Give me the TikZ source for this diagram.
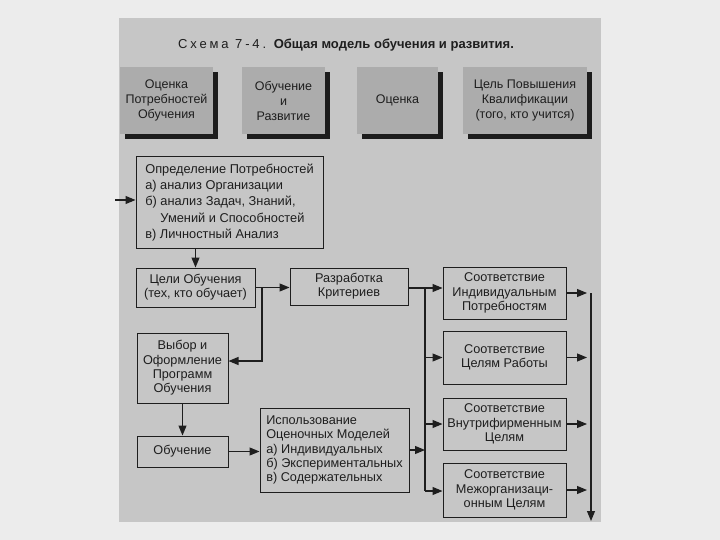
\documentclass[tikz,border=0pt]{standalone}
\usepackage{fontspec}
\setmainfont{Liberation Sans}
\newfontfamily\spacedfont[LetterSpace=22]{Liberation Sans}
\usetikzlibrary{arrows.meta,shadows}
\definecolor{outerbg}{HTML}{ECECEC}
\definecolor{scanbg}{HTML}{C6C6C6}
\definecolor{topfill}{HTML}{ACACAC}
\definecolor{shadowcol}{HTML}{1C1C1C}
\definecolor{ink}{HTML}{1E1E1E}
\begin{document}
\begin{tikzpicture}[x=1pt,y=-1pt,
  font=\fontsize{12.7}{14.3}\selectfont,
  every node/.style={text=ink},
  topbox/.style={fill=topfill, inner sep=1pt, align=center,
     font=\fontsize{12.5}{15}\selectfont,
     drop shadow={opacity=1, fill=shadowcol, shadow xshift=5pt, shadow yshift=-5pt}},
  midbox/.style={draw=ink, line width=1pt, inner sep=2pt, align=center},
  leftbox/.style={draw=ink, line width=1pt, inner sep=2pt, align=left},
  conn/.style={draw=ink, line width=1.1pt},
  arr/.style={conn, -{Triangle[length=10pt,width=8pt]}}
]
\useasboundingbox (0,0) rectangle (720,540);
\fill[outerbg] (0,0) rectangle (720,540);
\fill[scanbg] (119,18) rectangle (601,522);

% title
\node[font=\fontsize{13}{15}\selectfont] (title) at (346,45)
  {{\spacedfont Схема 7-4.} \textbf{Общая модель обучения и развития.}};

% top row
\node[topbox, minimum width=93, minimum height=67] (t1) at (166.5,100.5)
  {Оценка\\Потребностей\\Обучения};
\node[topbox, minimum width=83, minimum height=67] (t2) at (283.5,100.5)
  {Обучение\\и\\Развитие};
\node[topbox, minimum width=81, minimum height=67] (t3) at (397.5,100.5)
  {Оценка};
\node[topbox, minimum width=124, minimum height=67] (t4) at (525,100.5)
  {Цель Повышения\\Квалификации\\(того, кто учится)};

% left column
\node[leftbox, minimum width=187, minimum height=91, font=\fontsize{12.8}{16.2}\selectfont] (need) at (229.5,202.5)
  {Определение Потребностей\\а) анализ Организации\\б) анализ Задач, Знаний,\\\phantom{б) }Умений и Способностей\\в) Личностный Анализ};
\node[midbox, minimum width=119, minimum height=39] (goals) at (195.5,287.5)
  {Цели Обучения\\(тех, кто обучает)};
\node[midbox, minimum width=118, minimum height=37] (crit) at (349,286.5)
  {Разработка\\Критериев};
\node[midbox, minimum width=91, minimum height=70] (choice) at (182.5,368)
  {Выбор и\\Оформление\\Программ\\Обучения};
\node[midbox, minimum width=91, minimum height=31] (train) at (182.5,451.5)
  {Обучение};
\node[leftbox, minimum width=149, minimum height=84, inner sep=1pt] (use) at (334.5,450)
  {Использование\\Оценочных Моделей\\а) Индивидуальных\\б) Экспериментальных\\в) Содержательных};

% right column
\node[midbox, minimum width=123, minimum height=52] (mA) at (504.5,293)
  {Соответствие\\Индивидуальным\\Потребностям};
\node[midbox, minimum width=123, minimum height=53] (mB) at (504.5,357.5)
  {Соответствие\\Целям Работы};
\node[midbox, minimum width=123, minimum height=52] (mC) at (504.5,424)
  {Соответствие\\Внутрифирменным\\Целям};
\node[midbox, minimum width=123, minimum height=54] (mD) at (504.5,490)
  {Соответствие\\Межорганизаци-\\онным Целям};

% coordinates
\coordinate (inL) at (115,200);
\coordinate (j1) at (262,287.5);
\coordinate (busTop) at (425,288);
\coordinate (busBot) at (425,491);
\coordinate (rTop) at (591,293);
\coordinate (rBot) at (591,521);

% connectors
\draw[arr] (inL) -- (inL -| need.west);
\draw[arr] (need.south -| goals.north) -- (goals.north);
\draw[arr] (goals.east) -- (goals.east -| crit.west);
\draw[arr] (j1) |- ([yshift=7pt]choice.east);
\draw[arr] (choice.south) -- (train.north);
\draw[arr] (train.east) -- (train.east -| use.west);
\draw[conn] (crit.east |- busTop) -- (busTop);
\draw[conn] (busTop) -- (busBot);
\draw[arr] (busTop) -- (busTop -| mA.west);
\draw[arr] (busTop |- mB.west) -- (mB.west);
\draw[arr] (busTop |- mC.west) -- (mC.west);
\draw[arr] (busBot) -- (busBot -| mD.west);
\draw[arr] (use.east) -- (use.east -| busTop);
\draw[arr, shorten >=4pt] (mA.east) -- (mA.east -| rTop);
\draw[arr, shorten >=4pt] (mB.east) -- (mB.east -| rTop);
\draw[arr, shorten >=4pt] (mC.east) -- (mC.east -| rTop);
\draw[arr, shorten >=4pt] (mD.east) -- (mD.east -| rTop);
\draw[arr] (rTop) -- (rBot);
\end{tikzpicture}
\end{document}
